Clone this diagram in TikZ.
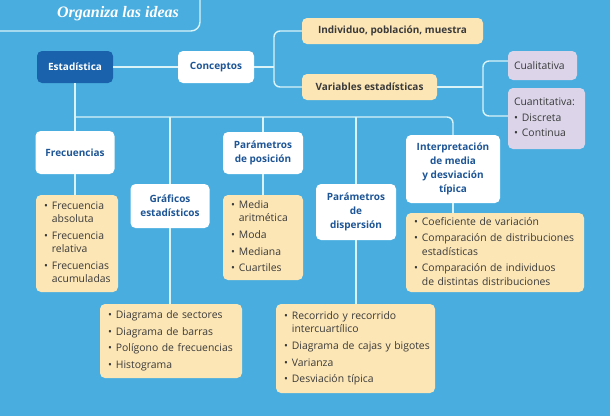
\documentclass[tikz,border=0pt]{standalone}
\usepackage{fontspec}
\setmainfont{Open Sans}
\newfontfamily\titlefont{Liberation Serif}
\usepackage{tikz}
\definecolor{sky}{HTML}{49AEDF}
\definecolor{wire}{HTML}{D9F3F7}
\definecolor{deep}{HTML}{1B62AC}
\definecolor{navy}{HTML}{1D5596}
\definecolor{cream}{HTML}{FCE6B6}
\definecolor{lilac}{HTML}{DCD5EA}
\definecolor{ink}{HTML}{3A3A3A}
\newcommand{\headfont}{\bfseries\fontsize{10}{14}\selectfont}
\newcommand{\listfont}{\fontsize{10.4}{11}\selectfont}
\renewcommand{\arraystretch}{1.2}
\newenvironment{bullets}{\begin{tabular}{@{}l@{\hspace{4pt}}l@{}}}{\end{tabular}}

\begin{document}
\begin{tikzpicture}[x=1pt,y=-1pt,
box/.style={rectangle, rounded corners=5pt, inner sep=0pt, align=center},
head/.style={box, fill=white, text=navy, font=\headfont},
tag/.style={box, fill=cream, text=ink, font=\headfont},
kind/.style={box, fill=lilac, text=ink, font=\listfont, align=left, inner xsep=6pt},
list/.style={box, fill=cream, text=ink, font=\listfont, align=left, inner xsep=8pt},
link/.style={draw=wire, line width=1.4pt, rounded corners=6pt},
point/.style={coordinate},
]
\useasboundingbox (0,0) rectangle (610,416);
\fill[sky] (0,0) rectangle (610,416);
%title
\node (title) at (118,14) [text=white, font=\titlefont\bfseries\itshape\fontsize{16}{18}\selectfont] {Organiza las ideas};
\draw [link, rounded corners=9pt] (0,31) -| (200,0);
%first row
\node (est) at (75,67) [box, fill=deep, text=white, font=\headfont, minimum width=76pt, minimum height=32pt] {Estadística};
\node (cpt) at (216,67) [head, minimum width=76pt, minimum height=32pt] {Conceptos};
\node (ind) at (392.5,31) [tag, minimum width=181pt, minimum height=26pt] {Individuo, población, muestra};
\node (var) at (369.5,87) [tag, minimum width=135pt, minimum height=26pt] {Variables estadísticas};
\node (cual) at (542.5,65.5) [kind, text width=57pt, minimum height=29pt] {Cualitativa};
\node (cuan) at (546.5,118.5) [kind, text width=65pt, minimum height=61pt] {\begin{bullets}
\multicolumn{2}{@{}l@{}}{Cuantitativa:}\\[2pt]
\textbullet & Discreta\\[2pt]
\textbullet & Continua
\end{bullets}};
\node (cj) at (274,67) [point] {};
\node (vj) at (483,87) [point] {};
\node (bus) at (75,117) [point] {};
%second row
\node (frec) at (75,152.5) [head, minimum width=79pt, minimum height=43pt] {Frecuencias};
\node (gra) at (170,206) [head, minimum width=79pt, minimum height=44pt] {Gráficos\\estadísticos};
\node (pos) at (263,153) [head, minimum width=80pt, minimum height=42pt] {Parámetros\\de posición};
\node (dis) at (356,212) [head, minimum width=80pt, minimum height=56pt] {Parámetros\\de\\dispersión};
\node (interp) at (453,169) [head, minimum width=94pt, minimum height=68pt] {Interpretación\\de media\\y desviación\\típica};
%lists
\node (flist) at (77,243.5) [list, text width=66pt, minimum height=97pt] {\begin{bullets}
\textbullet & Frecuencia\\ & absoluta\\[3.5pt]
\textbullet & Frecuencia\\ & relativa\\[3.5pt]
\textbullet & Frecuencias\\ & acumuladas
\end{bullets}};
\node (glist) at (171,341) [list, text width=126pt, minimum height=74pt] {\begin{bullets}
\textbullet & Diagrama de sectores\\[3.5pt]
\textbullet & Diagrama de barras\\[3.5pt]
\textbullet & Polígono de frecuencias\\[3.5pt]
\textbullet & Histograma
\end{bullets}};
\node (plist) at (263,237.5) [list, text width=64pt, minimum height=85pt] {\begin{bullets}
\textbullet & Media\\ & aritmética\\[3.5pt]
\textbullet & Moda\\[3.5pt]
\textbullet & Mediana\\[3.5pt]
\textbullet & Cuartiles
\end{bullets}};
\node (dlist) at (355.5,348.5) [list, text width=143pt, minimum height=89pt] {\begin{bullets}
\textbullet & Recorrido y recorrido\\ & intercuartílico\\[3.5pt]
\textbullet & Diagrama de cajas y bigotes\\[3.5pt]
\textbullet & Varianza\\[3.5pt]
\textbullet & Desviación típica
\end{bullets}};
\node (ilist) at (495,252.5) [list, text width=162pt, minimum height=79pt] {\begin{bullets}
\textbullet & Coeficiente de variación\\[3.5pt]
\textbullet & Comparación de distribuciones\\ & estadísticas\\[3.5pt]
\textbullet & Comparación de individuos\\ & de distintas distribuciones
\end{bullets}};
%connectors
\draw [link] (est)--(cpt);
\draw [link] (cpt)--(cj);
\draw [link] (ind.west) -| (cj) |- (var.west);
\draw [link] (var)--(vj);
\draw [link] ([yshift=4.5pt]cual.west) -| (vj) |- ([yshift=2.5pt]cuan.west);
\draw [link] (est.south)--(frec.north);
\draw [link] (bus) -| (interp.north);
\draw [link] (gra.north |- bus)--(gra.north);
\draw [link] (pos.north |- bus)--(pos.north);
\draw [link] (dis.north |- bus)--(dis.north);
\draw [link] (frec.south)--(frec.south |- flist.north);
\draw [link] (gra.south)--(gra.south |- glist.north);
\draw [link] (pos.south)--(pos.south |- plist.north);
\draw [link] (dis.south)--(dis.south |- dlist.north);
\draw [link] (interp.south)--(interp.south |- ilist.north);
\end{tikzpicture}
\end{document}
